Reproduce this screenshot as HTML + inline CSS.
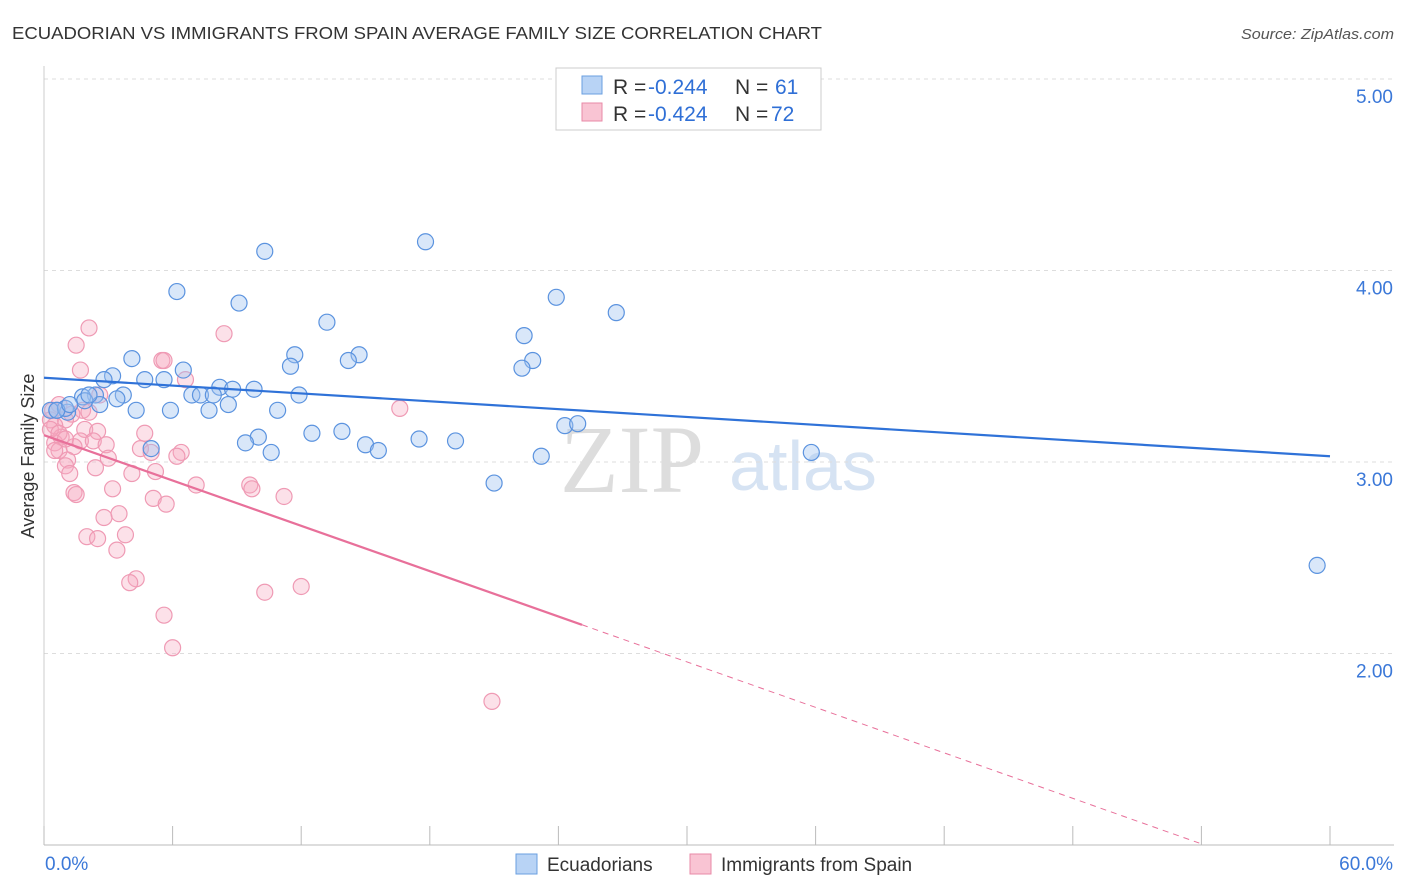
<!DOCTYPE html>
<html><head><meta charset="utf-8">
<style>
body{margin:0;background:#fff;font-family:"Liberation Sans",sans-serif;}
#wrap{position:relative;width:1406px;height:892px;overflow:hidden;}
</style></head>
<body><div id="wrap">
<svg id="svg" width="1406" height="892" xmlns="http://www.w3.org/2000/svg">
<text x="12" y="39" font-size="17.5" fill="#333" textLength="810" lengthAdjust="spacingAndGlyphs">ECUADORIAN VS IMMIGRANTS FROM SPAIN AVERAGE FAMILY SIZE CORRELATION CHART</text>
<text x="1241" y="39" font-size="15" fill="#555" font-style="italic" textLength="153" lengthAdjust="spacingAndGlyphs">Source: ZipAtlas.com</text>
<text transform="translate(34,456) rotate(-90)" font-size="18" fill="#333" text-anchor="middle">Average Family Size</text>
<g><text x="632" y="492" font-size="96" fill="#ddd" font-family="Liberation Serif,serif" text-anchor="middle">ZIP</text><text x="803" y="490" font-size="70" fill="#d6e3f3" text-anchor="middle">atlas</text></g>
<g id="grid"></g><g id="pts"></g><g id="lines"></g>
<g font-size="21">
<rect x="556" y="68" width="265" height="62" fill="#fff" stroke="#ccc"/>
<rect x="582" y="76" width="20" height="18" fill="#b8d3f5" stroke="#6a9fe0"/>
<text x="613" y="94" fill="#333">R =</text><text x="648" y="94" fill="#2f6fd6">-0.244</text>
<text x="735" y="94" fill="#333">N =</text><text x="775" y="94" fill="#2f6fd6">61</text>
<rect x="582" y="103" width="20" height="18" fill="#f9c4d3" stroke="#e88aa7"/>
<text x="613" y="121" fill="#333">R =</text><text x="648" y="121" fill="#2f6fd6">-0.424</text>
<text x="735" y="121" fill="#333">N =</text><text x="771" y="121" fill="#2f6fd6">72</text>
</g>
<g>
<rect x="516" y="854" width="21" height="20" fill="#b8d3f5" stroke="#6a9fe0"/>
<text x="547" y="871" font-size="19" fill="#333">Ecuadorians</text>
<rect x="690" y="854" width="21" height="20" fill="#f9c4d3" stroke="#e88aa7"/>
<text x="721" y="871" font-size="19" fill="#333">Immigrants from Spain</text>
</g>
</svg>
<script>
const xTicks=[0,60];
const yTicks=[2,3,4,5];
const blueX=[10.3,17.8,6.2,9.1,23.9,26.7,13.2,22.4,4.1,11.7,14.7,14.2,22.8,22.3,11.5,6.5,3.2,2.8,4.7,5.6,8.2,9.8,8.8,6.9,7.3,7.9,11.9,3.7,2.4,1.8,3.4,8.6,7.7,2.6,4.3,5.9,10.9,0.6,0.3,1.1,1.0,12.5,13.9,10.0,9.4,15.0,17.5,19.2,15.6,10.6,24.3,24.9,23.2,35.8,21.0,5.0,59.4,0.6,1.9,2.1,1.2];
const blueY=[4.10,4.15,3.89,3.83,3.86,3.78,3.73,3.66,3.54,3.56,3.56,3.53,3.53,3.49,3.50,3.48,3.45,3.43,3.43,3.43,3.39,3.38,3.38,3.35,3.35,3.35,3.35,3.35,3.35,3.34,3.33,3.30,3.27,3.30,3.27,3.27,3.27,3.27,3.27,3.26,3.28,3.15,3.16,3.13,3.10,3.09,3.12,3.11,3.06,3.05,3.19,3.20,3.03,3.05,2.89,3.07,2.46,3.27,3.32,3.35,3.30];
const pinkX=[2.1,8.4,1.5,5.5,5.6,1.7,6.6,16.6,1.8,0.7,1.3,2.1,0.3,1.0,0.5,1.9,2.5,4.7,0.8,1.7,2.3,2.9,0.5,0.7,1.4,4.5,5.0,6.4,6.2,3.0,1.1,0.5,1.0,1.2,2.4,4.1,5.2,9.6,9.7,7.1,3.2,1.4,1.5,5.1,5.7,11.2,2.8,3.5,2.0,2.5,3.8,3.4,4.3,4.0,10.3,12.0,5.6,6.0,20.9,0.3,0.7,1.0,0.4,2.6];
const pinkY=[3.70,3.67,3.61,3.53,3.53,3.48,3.43,3.28,3.27,3.30,3.25,3.26,3.22,3.22,3.19,3.17,3.16,3.15,3.13,3.11,3.11,3.09,3.10,3.06,3.08,3.07,3.05,3.05,3.03,3.02,3.01,3.06,2.98,2.94,2.97,2.94,2.95,2.88,2.86,2.88,2.86,2.84,2.83,2.81,2.78,2.82,2.71,2.73,2.61,2.60,2.62,2.54,2.39,2.37,2.32,2.35,2.20,2.03,1.75,3.17,3.15,3.12,3.27,3.35];
const blueTrend=[[0,3.44],[60,3.03]];
const pinkTrendSolid=[[0,3.14],[25.1,2.15]];
const pinkTrendDash=[[25.1,2.15],[53.9,1.01]];
const X=v=>44+v/60*1286, Y=v=>79+(5-v)*191.5;
const NS="http://www.w3.org/2000/svg";
function mk(tag,attrs,parent){const e=document.createElementNS(NS,tag);for(const k in attrs)e.setAttribute(k,attrs[k]);parent.appendChild(e);return e;}
const grid=document.getElementById('grid');
for(const t of yTicks){
 const g=mk('line',{x1:44,x2:1394,y1:Y(t),y2:Y(t),stroke:'#ddd','stroke-dasharray':'4,4'},grid);
 
 
 const l=mk('text',{x:1393,y:Y(t)+24,'font-size':19,fill:'#3b78d8','text-anchor':'end'},grid);
 l.textContent=t.toFixed(2);
 
 
}
mk('line',{x1:44,x2:1394,y1:845,y2:845,stroke:'#bbb'},grid);
mk('line',{x1:44,x2:44,y1:66,y2:845,stroke:'#ccc'},grid);
for(let i=0;i<=10;i++){mk('line',{x1:X(i*6),x2:X(i*6),y1:826,y2:845,stroke:'#bbb'},grid);}
for(const t of xTicks){
 const l=mk('text',{x:t===0?45:1393,y:870,'font-size':19,fill:'#3b78d8','text-anchor':t===0?'start':'end'},grid);
 l.textContent=t.toFixed(1)+'%';
 
 
}
const pts=document.getElementById('pts');
pinkX.forEach((x,i)=>{const c=mk('circle',{cx:X(x),cy:Y(pinkY[i]),r:8,fill:'rgba(247,170,193,0.35)',stroke:'#ef9ab4','stroke-width':1.2},pts);
 
 });
blueX.forEach((x,i)=>{const c=mk('circle',{cx:X(x),cy:Y(blueY[i]),r:8,fill:'rgba(160,195,240,0.4)',stroke:'#5b93df','stroke-width':1.2},pts);
 
 });
const lines=document.getElementById('lines');
function ln(p,attrs,name){const e=mk('line',Object.assign({x1:X(p[0][0]),y1:Y(p[0][1]),x2:X(p[1][0]),y2:Y(p[1][1])},attrs),lines);
 
 }
ln(blueTrend,{stroke:'#2f72d8','stroke-width':2.2},'trend-ecuadorians');
ln(pinkTrendSolid,{stroke:'#e8709a','stroke-width':2.2},'trend-spain');
ln(pinkTrendDash,{stroke:'#e8709a','stroke-width':1,'stroke-dasharray':'6,5'},'trend-spain-extrapolated');
</script>
</div></body></html>
